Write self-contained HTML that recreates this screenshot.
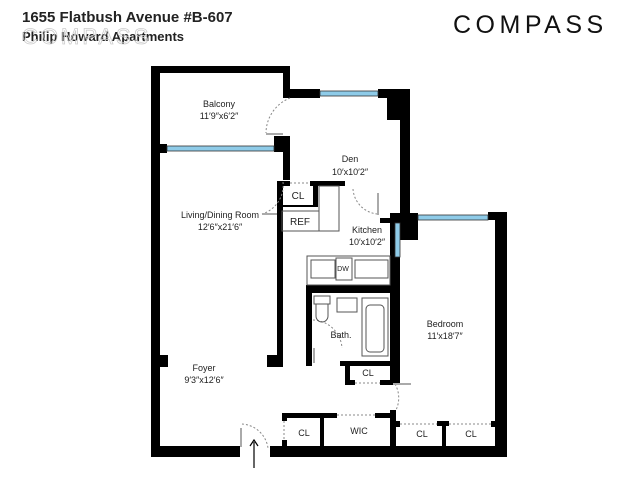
<!DOCTYPE html>
<html><head><style>
body{margin:0;background:#fff;width:621px;height:480px;overflow:hidden;font-family:"Liberation Sans",sans-serif}
</style></head><body>
<svg width="621" height="480" viewBox="0 0 621 480" xmlns="http://www.w3.org/2000/svg" font-family="Liberation Sans, sans-serif">
<text x="22" y="22" font-size="15" font-weight="bold" fill="#222">1655 Flatbush Avenue #B-607</text>
<text x="22" y="41" font-size="13" font-weight="bold" fill="#222">Philip Howard Apartments</text>
<text x="22" y="44" font-size="22" fill="none" stroke="#ccc" stroke-width="0.8" letter-spacing="3">COMPASS</text>
<text x="453" y="33" font-size="25" fill="#111" letter-spacing="4.5">COMPASS</text>
<g fill="#000">
<rect x="151" y="66" width="139" height="7"/>
<rect x="151" y="66" width="9" height="391"/>
<rect x="283" y="66" width="7" height="32"/>
<rect x="283" y="89" width="37" height="9"/>
<rect x="378" y="89" width="32" height="9"/>
<rect x="387" y="89" width="23" height="31"/>
<rect x="400" y="89" width="10" height="134"/>
<rect x="380" y="218" width="30" height="5"/>
<rect x="151" y="144" width="16" height="9"/>
<rect x="274" y="136" width="16" height="16"/>
<rect x="283" y="136" width="7" height="44"/>
<rect x="151" y="446" width="89" height="11"/>
<rect x="270" y="446" width="237" height="11"/>
<rect x="495" y="212" width="12" height="245"/>
<rect x="390" y="213" width="28" height="27"/>
<rect x="390" y="213" width="10" height="170"/>
<rect x="488" y="212" width="8" height="8"/>
<rect x="277" y="181" width="6" height="186"/>
<rect x="267" y="355" width="16" height="12"/>
<rect x="151" y="355" width="17" height="12"/>
<rect x="277" y="181" width="13" height="5"/>
<rect x="310" y="181" width="35" height="5"/>
<rect x="313" y="186" width="5" height="20"/>
<rect x="282" y="205" width="36" height="2"/>
<rect x="306" y="285" width="90" height="8"/>
<rect x="306" y="285" width="6" height="81"/>
<rect x="340" y="361" width="56" height="5"/>
<rect x="345" y="361" width="5" height="24"/>
<rect x="345" y="380" width="10" height="5"/>
<rect x="380" y="380" width="16" height="5"/>
<rect x="282" y="413" width="55" height="5"/>
<rect x="375" y="413" width="18" height="5"/>
<rect x="390" y="410" width="6" height="40"/>
<rect x="282" y="413" width="5" height="8"/>
<rect x="282" y="440" width="5" height="8"/>
<rect x="320" y="413" width="4" height="35"/>
<rect x="437" y="421" width="12" height="5"/>
<rect x="442" y="421" width="4" height="28"/>
<rect x="396" y="421" width="4" height="6"/>
<rect x="491" y="421" width="5" height="6"/>
</g>
<g fill="#8ecbe8" stroke="#333" stroke-width="0.8">
<rect x="320" y="91" width="58" height="5"/>
<rect x="167" y="146" width="107" height="5"/>
<rect x="395" y="223" width="5" height="34"/>
<rect x="418" y="215" width="70" height="5"/>
</g>
<g fill="none" stroke="#888" stroke-width="1" stroke-dasharray="2,2">
<line x1="290" y1="183" x2="310" y2="183"/>
<line x1="355" y1="383" x2="380" y2="383"/>
<line x1="337" y1="415" x2="375" y2="415"/>
<line x1="284" y1="421" x2="284" y2="440"/>
<line x1="400" y1="424" x2="437" y2="424"/>
<line x1="449" y1="424" x2="491" y2="424"/>
<path d="M290 98 A38 38 0 0 0 266 133"/>
<path d="M283 182 A30 30 0 0 1 262 214"/>
<path d="M353 189 A27 27 0 0 0 377 214"/>
<path d="M313 320 A30 30 0 0 1 342 348"/>
<path d="M395 384 A28 28 0 0 1 396 410"/>
<path d="M242 424 A28 28 0 0 1 268 448"/>
</g>
<g stroke="#aaa" stroke-width="2"><line x1="266" y1="134" x2="283" y2="134"/><line x1="262" y1="214" x2="277" y2="214"/><line x1="378" y1="193" x2="378" y2="215"/><line x1="314" y1="348" x2="314" y2="363"/><line x1="393" y1="384" x2="411" y2="384"/><line x1="241" y1="428" x2="241" y2="447"/></g>
<line x1="254" y1="468" x2="254" y2="442" stroke="#000" stroke-width="1.2"/>
<path d="M250 446 L254 440 L258 446" fill="none" stroke="#000" stroke-width="1.2"/>
<g fill="none" stroke="#555" stroke-width="1">
<rect x="282" y="211" width="37" height="20"/>
<rect x="319" y="186" width="20" height="45"/>
<rect x="307" y="256" width="83" height="29"/>
<rect x="311" y="260" width="24" height="18"/>
<rect x="336" y="258" width="16" height="22"/>
<rect x="355" y="260" width="33" height="18"/>
<rect x="314" y="296" width="16" height="8"/>
<path d="M316 304 h12 v12 a6 6 0 0 1 -12 0z"/>
<rect x="337" y="298" width="20" height="14"/>
<rect x="362" y="298" width="26" height="58"/>
<rect x="366" y="305" width="18" height="47" rx="4"/>
</g>
<g fill="#222" font-size="9" text-anchor="middle">
<text x="219" y="107">Balcony</text><text x="219" y="119">11′9″x6′2″</text>
<text x="350" y="162">Den</text><text x="350" y="175">10′x10′2″</text>
<text x="298" y="199" font-size="10">CL</text>
<text x="300" y="225" font-size="10">REF</text>
<text x="220" y="218">Living/Dining Room</text><text x="220" y="230">12′6″x21′6″</text>
<text x="367" y="233">Kitchen</text><text x="367" y="245">10′x10′2″</text>
<text x="343" y="271" font-size="7">DW</text>
<text x="341" y="338">Bath.</text>
<text x="445" y="327">Bedroom</text><text x="445" y="339">11′x18′7″</text>
<text x="368" y="376">CL</text>
<text x="204" y="371">Foyer</text><text x="204" y="383">9′3″x12′6″</text>
<text x="304" y="436">CL</text><text x="359" y="434">WIC</text>
<text x="422" y="437">CL</text><text x="471" y="437">CL</text>
</g>
</svg>
</body></html>
